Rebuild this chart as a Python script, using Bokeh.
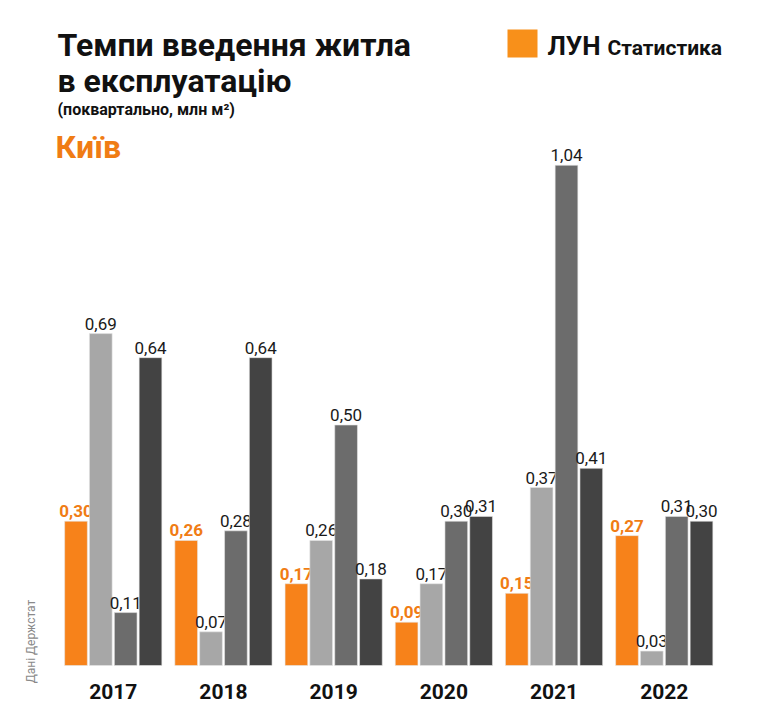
import math
from bokeh.plotting import figure
from bokeh.models import ColumnDataSource, Label, Range1d, BoxAnnotation
from bokeh.core.properties import value
from bokeh.embed import file_html
from bokeh.resources import INLINE

# ---- data ----
years = ["2017", "2018", "2019", "2020", "2021", "2022"]
q1 = [0.30, 0.26, 0.17, 0.09, 0.15, 0.27]
q2 = [0.69, 0.07, 0.26, 0.17, 0.37, 0.03]
q3 = [0.11, 0.28, 0.50, 0.30, 1.04, 0.31]
q4 = [0.64, 0.64, 0.18, 0.31, 0.41, 0.30]
series = [q1, q2, q3, q4]
colors = ["#f7821a", "#a7a7a7", "#6c6c6c", "#434343"]
label_colors = ["#f07c14", "#1a1a1a", "#1a1a1a", "#1a1a1a"]
label_styles = ["bold", "normal", "normal", "normal"]
offsets = [-0.338, -0.113, 0.113, 0.338]

# ---- layout (figure pixels -> data) ----
W, H = 763, 703
PX_X = 110.2       # px per group
X0_PX = 112.75     # x of first group centre
PX_Y = 481.0       # px per unit
Y0_PX = 665.0      # y of baseline

def dx(px):
    return (px - X0_PX) / PX_X

def dy(py):
    return (Y0_PX - py) / PX_Y

p = figure(width=W, height=H, output_backend="svg", toolbar_location=None,
           x_range=Range1d(dx(0), dx(W)), y_range=Range1d(dy(H), dy(0)),
           x_axis_location=None, y_axis_location=None,
           min_border_left=0, min_border_right=0,
           min_border_top=0, min_border_bottom=0)
p.outline_line_color = None
p.grid.visible = False
p.background_fill_color = "white"
p.border_fill_color = "white"

FONT = "Roboto"

for i, vals in enumerate(series):
    xs = [g + offsets[i] for g in range(len(years))]
    src = ColumnDataSource(dict(x=xs, top=vals,
                                lab=[f"{v:.2f}".replace(".", ",") for v in vals]))
    p.vbar(x="x", top="top", bottom=0, width=0.206, source=src,
           fill_color=colors[i], line_color="#e6e6e6", line_width=0.6)
    p.text(x="x", y="top", text="lab", source=src, y_offset=-10,
           text_align="center", text_baseline="middle",
           text_font=value(FONT), text_font_size="17px",
           text_font_style=label_styles[i], text_color=label_colors[i])

# year labels
ysrc = ColumnDataSource(dict(x=list(range(len(years))), y=[dy(691)] * len(years), t=years))
p.text(x="x", y="y", text="t", source=ysrc, text_align="center", text_baseline="middle",
       text_font=value(FONT), text_font_size="21px", text_font_style="bold",
       text_color="#111111")

def lab(text, px, py, size, style="bold", color="#111111", align="left",
        baseline="middle", angle=0.0):
    p.add_layout(Label(x=dx(px), y=dy(py), text=text, text_font=FONT,
                       text_font_size=size, text_font_style=style,
                       text_color=color, text_align=align,
                       text_baseline=baseline, angle=angle))

lab("Темпи введення житла", 57, 44, "32px")
lab("в експлуатацію", 57, 80, "32px")
lab("(поквартально, млн м²)", 57, 109, "16px")
lab("Київ", 55, 146, "32px", color="#f07c14")

# logo
p.add_layout(BoxAnnotation(left=dx(507), right=dx(537), bottom=dy(57), top=dy(29),
                           fill_color="#f8901a", fill_alpha=1.0, line_color=None))
lab("ЛУН", 547, 45, "26px")
lab("Статистика", 607, 47, "21px")

# source
lab("Дані Держстат", 30, 641, "12px", style="normal", color="#8a8a8a",
    align="center", angle=math.pi / 2)

open("out.html", "w").write(file_html(p, INLINE))
